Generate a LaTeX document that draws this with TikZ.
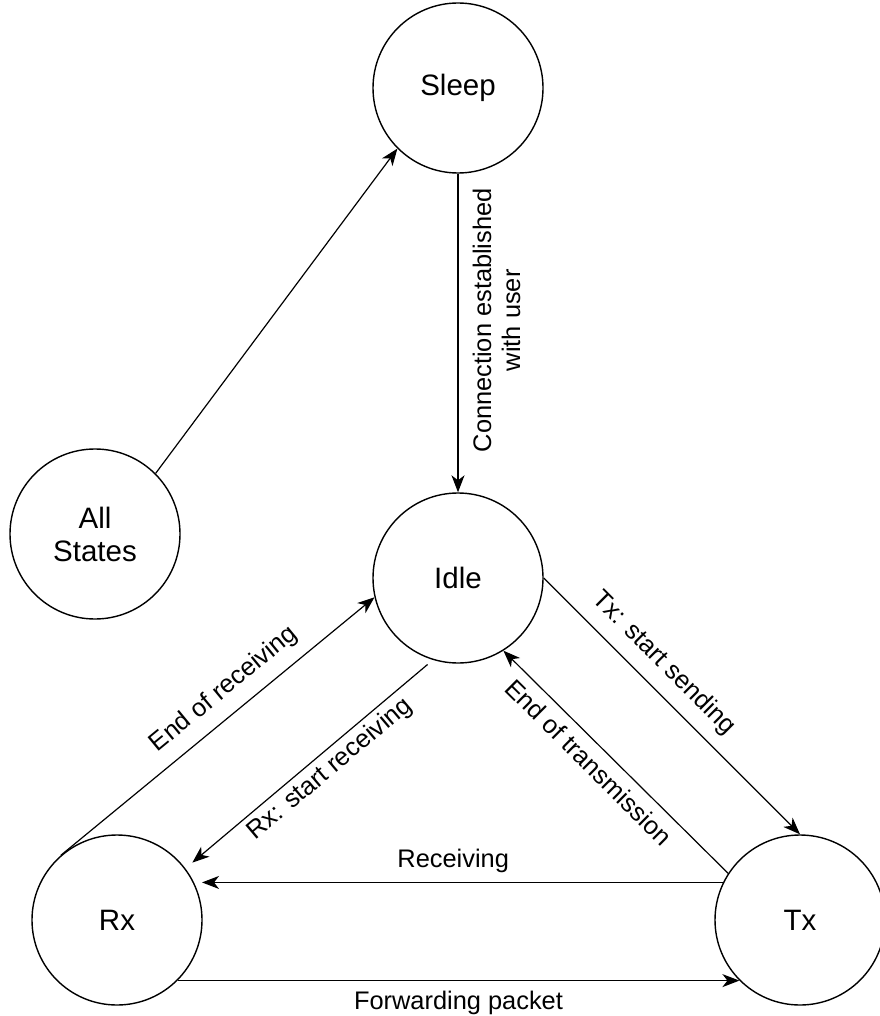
\documentclass[tikz,border=0pt]{standalone}
\usepackage{fontspec}
\setmainfont{Liberation Sans}
\usetikzlibrary{arrows.meta}
\begin{document}
\begin{tikzpicture}[x=1pt,y=-1pt,
  state/.style={circle, draw, line width=1.4pt, minimum size=170pt, inner sep=0pt,
    font=\fontsize{29.5}{33}\selectfont, align=center},
  conn/.style={line width=1.2pt, -{Stealth[length=17pt,width=13pt,inset=5pt]}},
  lbl/.style={font=\fontsize{25.4}{29}\selectfont, inner sep=0pt},
]
\useasboundingbox (0,0) rectangle (879,1016);
\node[state] (sleep) at (458,88) {Sleep};
\node[state] (all) at (95,534) {All\\States};
\node[state] (idle) at (458,578) {Idle};
\node[state] (rx) at (117,920) {Rx};
\node[state] (tx) at (800,920) {Tx};

\draw[conn] (all.45) -- (sleep.225);
\draw[conn] (sleep.south) -- node[lbl, pos=0.46, rotate=90, anchor=north, inner ysep=14pt, align=center] {Connection established\\with user} (idle.north);
\draw[conn] (idle.east) -- node[lbl, pos=0.40, sloped, above=12pt] {Tx: start sending} (tx.north);
\draw[conn] (tx.147) -- node[lbl, pos=0.56, sloped, below=9pt] {End of transmission} (idle.302);
\draw[conn, shorten <=7pt, shorten >=9pt] (idle.253) -- node[lbl, pos=0.46, sloped, below=5pt] {Rx: start receiving} (rx.37);
\draw[conn] (rx.131) -- node[lbl, pos=0.57, sloped, above=12pt] {End of receiving} (idle.193);
\draw[conn, shorten >=8pt] (tx.154) -- node[lbl, pos=0.51, above=9pt] {Receiving} (rx.26);
\draw[conn] (rx.-45) -- node[lbl, midway, below=10pt] {Forwarding packet} (tx.225);
\end{tikzpicture}
\end{document}
